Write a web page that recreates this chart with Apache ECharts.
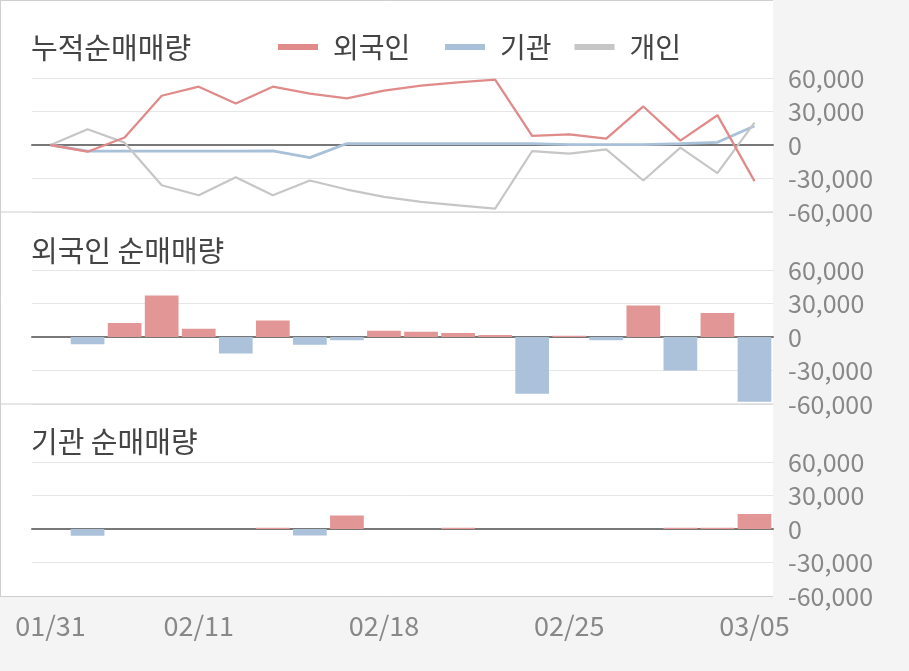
<!DOCTYPE html>
<html>
<head>
<meta charset="utf-8">
<script src="https://cdn.jsdelivr.net/npm/echarts@6/dist/echarts.min.js"></script>
<style>
html,body{margin:0;padding:0;background:#fff;}
#c{width:909px;height:671px;}
</style>
</head>
<body>
<div id="c"></div>
<script>
const categories = ['01/31','02/01','02/07','02/08','02/11','02/12','02/13','02/14','02/15','02/18','02/19','02/20','02/21','02/22','02/25','02/26','02/27','02/28','03/04','03/05'];
const shownLabels = ['01/31','02/11','02/18','02/25','03/05'];

const foreignCum = [0, -6000, 6700, 44100, 52200, 37200, 52200, 46000, 41700, 48600, 53100, 56100, 58500, 8100, 9600, 5700, 34500, 3900, 26700, -32400];
const instCum    = [0, -5400, -5400, -5400, -5400, -5400, -5300, -11300, 1300, 1300, 1300, 1300, 1300, 1300, 300, 300, 300, 1300, 2400, 17100];
const indivCum   = [0, 14100, 2100, -36000, -45000, -28800, -45000, -31800, -39900, -46400, -51000, -54000, -57000, -5400, -7800, -3900, -31800, -2400, -25200, 20100];

const foreignDaily = [0, -6500, 12600, 37200, 7500, -14700, 14700, -6900, -3000, 5700, 4800, 3600, 1800, -50800, 1200, -3000, 28200, -30000, 21600, -58000];
const instDaily    = [0, -6000, 0, 0, 0, 0, 1200, -5800, 12000, 0, 0, 1200, 0, 0, 0, 0, 0, 1200, 1200, 13500];

const seriesNames = ['외국인', '기관', '개인'];
const titles = ['누적순매매량', '외국인 순매매량', '기관 순매매량'];
const yTicks = { min: -60000, max: 60000, interval: 30000 };

const FONT = '"Noto Sans CJK KR", "Noto Sans", sans-serif';
const RED_LINE = '#e08a8a', BLUE_LINE = '#a9c0d9', GRAY_LINE = '#c6c6c6';
const RED_BAR = '#e39696', BLUE_BAR = '#abc2da';

const chart = echarts.init(document.getElementById('c'), null, {renderer: 'canvas'});

const gridTops = [78, 270, 462];
const grids = gridTops.map(t => ({left: 32, right: 136, top: t, height: 134}));

const xAxes = gridTops.map((t, i) => ({
  type: 'category', gridIndex: i, data: categories, boundaryGap: true,
  axisLine: {onZero: true, lineStyle: {color: '#777', width: 2}},
  axisTick: {show: false},
  axisLabel: i === 2 ? {
    show: true, fontSize: 27, color: '#888', fontFamily: FONT, margin: 16,
    interval: (idx, val) => shownLabels.indexOf(val) >= 0
  } : {show: false},
  splitLine: {show: false}
}));

const yAxes = gridTops.map((t, i) => ({
  type: 'value', gridIndex: i, position: 'right',
  min: yTicks.min, max: yTicks.max, interval: yTicks.interval,
  axisLine: {show: false}, axisTick: {show: false},
  axisLabel: {fontSize: 25, color: '#888', fontFamily: FONT, margin: 15,
    formatter: v => v.toLocaleString('en-US')},
  splitLine: {lineStyle: {color: '#e6e6e6', width: 1}}
}));

const barColor = p => (p.value >= 0 ? RED_BAR : BLUE_BAR);

const legendBase = {
  top: 33, padding: 0, icon: 'rect', itemWidth: 40, itemHeight: 6,
  textStyle: {fontSize: 28, color: '#444', fontFamily: FONT, padding: [0, 0, 0, 10]}
};

const option = {
  animation: false,
  backgroundColor: '#fff',
  textStyle: {fontFamily: FONT},
  graphic: [
    {type: 'rect', z: -10, silent: true, shape: {x: 773, y: 0, width: 136, height: 671}, style: {fill: '#f4f4f4'}},
    {type: 'rect', z: -10, silent: true, shape: {x: 0, y: 597, width: 909, height: 74}, style: {fill: '#f4f4f4'}},
    {type: 'line', z: 5, silent: true, shape: {x1: 0, y1: 212, x2: 773, y2: 212}, style: {stroke: '#cfcfcf', lineWidth: 1}},
    {type: 'line', z: 5, silent: true, shape: {x1: 0, y1: 404, x2: 773, y2: 404}, style: {stroke: '#cfcfcf', lineWidth: 1}},
    {type: 'line', z: 5, silent: true, shape: {x1: 0, y1: 596.5, x2: 773, y2: 596.5}, style: {stroke: '#cfcfcf', lineWidth: 1}},
    {type: 'line', z: 5, silent: true, shape: {x1: 0, y1: 0.5, x2: 773, y2: 0.5}, style: {stroke: '#cfcfcf', lineWidth: 1}},
    {type: 'line', z: 5, silent: true, shape: {x1: 0.5, y1: 0, x2: 0.5, y2: 597}, style: {stroke: '#cfcfcf', lineWidth: 1}}
  ],
  title: titles.map((t, i) => ({
    text: t, left: 31, top: [33, 236, 427][i], padding: 0,
    textStyle: {fontSize: 29, fontWeight: 'normal', color: '#444', fontFamily: FONT}
  })),
  legend: [
    Object.assign({}, legendBase, {data: [seriesNames[0]], left: 278}),
    Object.assign({}, legendBase, {data: [seriesNames[1], seriesNames[2]], left: 445, itemGap: 23})
  ],
  grid: grids,
  xAxis: xAxes,
  yAxis: yAxes,
  series: [
    {name: seriesNames[0], type: 'line', xAxisIndex: 0, yAxisIndex: 0, data: foreignCum,
      showSymbol: false, symbol: 'none', color: RED_LINE, lineStyle: {width: 2.3, color: RED_LINE}, z: 3},
    {name: seriesNames[1], type: 'line', xAxisIndex: 0, yAxisIndex: 0, data: instCum,
      showSymbol: false, symbol: 'none', color: BLUE_LINE, lineStyle: {width: 2.8, color: BLUE_LINE}, z: 2},
    {name: seriesNames[2], type: 'line', xAxisIndex: 0, yAxisIndex: 0, data: indivCum,
      showSymbol: false, symbol: 'none', color: GRAY_LINE, lineStyle: {width: 2.2, color: GRAY_LINE}, z: 2},
    {name: 'foreignDaily', type: 'bar', xAxisIndex: 1, yAxisIndex: 1, data: foreignDaily,
      barWidth: '91%', itemStyle: {color: barColor}, z: 1},
    {name: 'instDaily', type: 'bar', xAxisIndex: 2, yAxisIndex: 2, data: instDaily,
      barWidth: '91%', itemStyle: {color: barColor}, z: 1}
  ]
};
chart.setOption(option);
</script>
</body>
</html>
